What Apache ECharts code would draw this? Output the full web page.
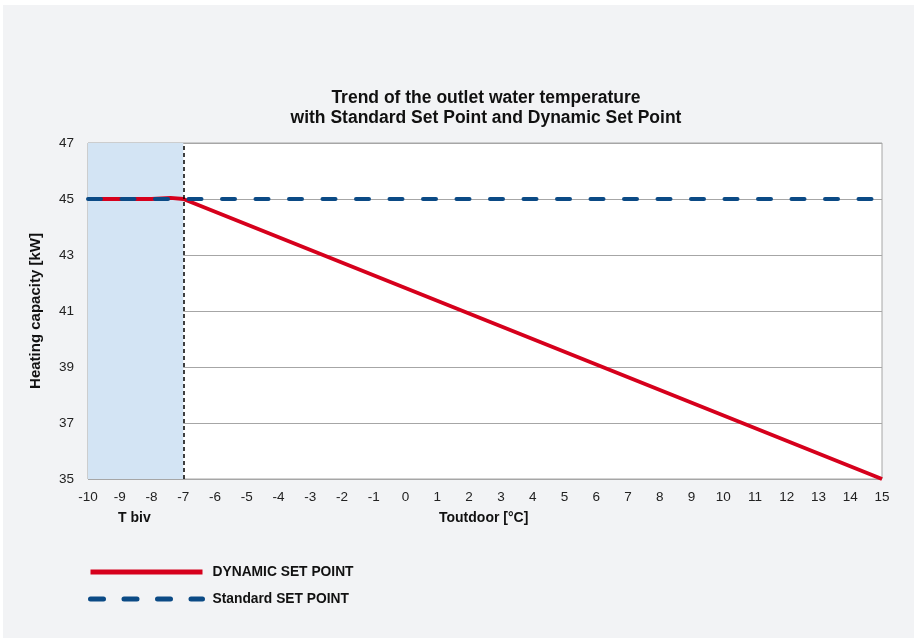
<!DOCTYPE html>
<html>
<head>
<meta charset="utf-8">
<script src="https://cdn.jsdelivr.net/npm/echarts@6/dist/echarts.min.js"></script>
<style>
html, body { margin: 0; padding: 0; background: #fff; }
#chart { width: 914px; height: 639px; }
</style>
</head>
<body>
<div id="chart"></div>
<script>
// x axis: outdoor temperature, y axis: outlet water temperature
var xMin = -10, xMax = 15;
var yMin = 35, yMax = 47;

// dynamic set point (red)
var dynamicPoints = [[-10, 45], [-8, 45], [-7.4, 45.04], [-7, 45], [15, 35]];
// standard set point (blue dashed)
var standardPoints = [[-10, 45], [15, 45]];

// bivalent temperature zone
var tBiv = -7;

var myChart = echarts.init(document.getElementById('chart'));

var font = 'Liberation Sans, Arial, sans-serif';
var blueDash = [13, 20.5];

var option = {
	backgroundColor: '#ffffff',
	animation: false,
	title: {
		text: 'Trend of the outlet water temperature\nwith Standard Set Point and Dynamic Set Point',
		left: 481,
		top: 83,
		textAlign: 'center',
		textStyle: {
			fontFamily: font,
			fontSize: 17.5,
			fontWeight: 'bold',
			color: '#111',
			lineHeight: 20
		}
	},
	graphic: [{
		type: 'rect',
		z: -10,
		silent: true,
		shape: { x: 3, y: 5, width: 911, height: 633 },
		style: { fill: '#f2f3f5' }
	}, {
		type: 'text',
		left: 118,
		top: 511,
		style: { text: 'T biv', font: 'bold 14px ' + font, fill: '#111' }
	}, {
		type: 'text',
		left: 439,
		top: 511,
		style: { text: 'Toutdoor [°C]', font: 'bold 14px ' + font, fill: '#111' }
	}],
	legend: {
		orient: 'vertical',
		left: 88,
		top: 565,
		padding: 0,
		itemWidth: 112,
		itemHeight: 14,
		itemGap: 13,
		itemStyle: { opacity: 0 },
		textStyle: {
			fontFamily: font,
			fontSize: 13.8,
			fontWeight: 'bold',
			color: '#111',
			padding: [0, 0, 0, 5]
		},
		data: [{
			name: 'DYNAMIC SET POINT',
			lineStyle: { width: 5, color: '#d6001c' }
		}, {
			name: 'Standard SET POINT',
			lineStyle: { width: 5, color: '#0b4a85', type: blueDash, cap: 'round' }
		}]
	},
	grid: {
		left: 88,
		right: 32,
		top: 143,
		bottom: 160,
		show: true,
		backgroundColor: '#ffffff',
		borderColor: '#a6a6a6',
		borderWidth: 1
	},
	xAxis: {
		type: 'value',
		min: xMin,
		max: xMax,
		interval: 1,
		axisLine: { show: false },
		axisTick: { show: false },
		splitLine: { show: false },
		axisLabel: {
			fontFamily: font,
			fontSize: 13.5,
			color: '#222',
			margin: 11
		}
	},
	yAxis: {
		type: 'value',
		min: yMin,
		max: yMax,
		interval: 2,
		name: 'Heating capacity [kW]',
		nameLocation: 'middle',
		nameGap: 45,
		nameTextStyle: {
			fontFamily: font,
			fontSize: 15,
			fontWeight: 'bold',
			color: '#111'
		},
		axisLine: { show: false },
		axisTick: { show: false },
		splitLine: { lineStyle: { color: '#a6a6a6', width: 1 } },
		axisLabel: {
			fontFamily: font,
			fontSize: 13.5,
			color: '#222',
			margin: 14
		}
	},
	series: [{
		name: 'DYNAMIC SET POINT',
		type: 'line',
		data: dynamicPoints,
		symbol: 'none',
		smooth: false,
		z: 3,
		lineStyle: { color: '#d6001c', width: 4 },
		itemStyle: { color: '#d6001c' },
		markArea: {
			silent: true,
			itemStyle: { color: '#d3e4f4' },
			data: [[{ xAxis: xMin }, { xAxis: tBiv }]]
		},
		markLine: {
			silent: true,
			symbol: 'none',
			label: { show: false },
			lineStyle: { color: '#000', type: [4, 3], width: 1.5 },
			data: [{ xAxis: tBiv }]
		}
	}, {
		name: 'Standard SET POINT',
		type: 'line',
		data: standardPoints,
		symbol: 'none',
		z: 4,
		lineStyle: { color: '#0b4a85', width: 4, type: blueDash, cap: 'round' },
		itemStyle: { color: '#0b4a85' }
	}]
};

myChart.setOption(option);
</script>
</body>
</html>
